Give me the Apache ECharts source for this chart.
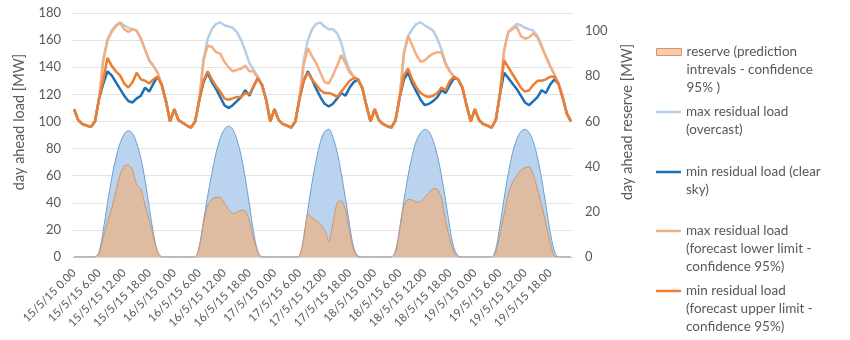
<!DOCTYPE html>
<html><head><meta charset="utf-8">
<script src="https://cdn.jsdelivr.net/npm/echarts@6/dist/echarts.min.js"></script>
<style>html,body{margin:0;padding:0;background:#fff}#c{width:850px;height:340px}</style>
</head><body><div id="c"></div>
<script>
// ---- data ----
const days = ['15/5/15','16/5/15','17/5/15','18/5/15','19/5/15'];
const hours = ['0','1','2','3','4','5','6','7','8','9','10','11','12','13','14','15','16','17','18','19','20','21','22','23'];

const nameReserve = 'reserve (prediction\nintrevals - confidence\n95% )';
const nameMaxOvercast = 'max residual load\n(overcast)';
const nameMinClear = 'min residual load (clear\nsky)';
const nameMaxLower = 'max residual load\n(forecast lower limit -\nconfidence 95%)';
const nameMinUpper = 'min residual load\n(forecast upper limit -\nconfidence 95%)';

// min residual load (forecast upper limit) [MW, left axis]
const minUpper = [
 109,101,98,97,96,100,117,131,147,141,137,134,128,125,129,136,131,130,128,131,133,127,115,100,
 109,101,99,97,95.5,100,116,130,137,131,126,122,117,116,117,118,118,121,120,126,132,127,116,100,
 109,101,98,97,95.5,100,117,130,136,131,127,123,121,121,120,118,122,126,130,132,131,125,112,100,
 109,101,98,96.5,95.5,101,118,134,139,131,125,121,119,118,119,121,125,123,130,133,131,125,112,100,
 109,101,98,97,95.5,101,120,145,140,135,130,125,122,123,127,130,130,131,133,133,128,118,106,100];
// min residual load (clear sky)
const minClear = [
 109,101,98,97,96,100,117,128,137,134,129,124,119,115,114,117,119,125,122,128,133,127,115,100,
 109,101,99,97,95.5,100,116,129,136,129,124,118,112,110,112,115,118,123,119,126,132,127,116,100,
 109,101,98,97,95.5,100,117,130,137,131,124,118,113,111,113,117,121,119,125,129,131,125,112,100,
 109,101,98,96.5,95.5,101,118,131,136,128,122,116,112,113,115,118,123,121,127,132,131,125,112,100,
 109,101,98,97,95.5,101,120,136,132,128,124,119,114,112,115,118,123,121,127,131,128,118,106,100];
// max residual load (forecast lower limit)
const maxLower = [
 109,101,98,97,96,100,117,145,160,166,170,173,168,166,168,167,161,153,145,141,136,127,115,100,
 109,101,99,97,95.5,100,116,145,156,155,151,150,144,140,137,138,139,141,137,137,132,127,116,100,
 109,101,98,97,95.5,100,117,142,154,148,143,136,129,128,134,141,149,143,136,133,131,125,112,100,
 109,101,98,96.5,95.5,101,118,150,163,156,149,144,145,148,150,151,151,142,137,133,131,125,112,100,
 109,101,98,97,95.5,101,120,152,166,168,170,163,161,162,165,162,155,148,141,135,128,118,106,100];
// max residual load (overcast)
const maxOvercast = [
 109,101,98,97,96,100,117,146,160,167,171,173,171,169,168,167,161,153,145,141,136,127,115,100,
 109,101,99,97,95.5,100,116,146,161,168,172,173,171,170,169,166,160,152,143,138,133,127,116,100,
 109,101,98,97,95.5,100,117,145,160,168,172,173,170,168,168,165,158,146,138,133,131,125,112,100,
 109,101,98,96.5,95.5,101,118,151,163,168,172,173,171,169,167,161,153,143,137,133,131,125,112,100,
 109,101,98,97,95.5,101,120,153,166,169,172,171,169,168,167,163,156,148,141,135,128,118,106,100];
// blue band (right axis, MW)
const blueBand = [
 0,0,0,0,0,0,2.4,12,23.7,34.8,43.7,50.3,54.4,55.9,54.7,50.3,43.7,34,22,10.5,2.4,0,0,0,
 0,0,0,0,0,0,5,16,27,37,46,52.5,56.5,58,56.5,52,45,35,23,11,2.5,0,0,0,
 0,0,0,0,0,0,0.5,9,21,33,43,51,55.5,56.5,53,46.5,37,26,14,4,0.5,0,0,0,
 0,0,0,0,0,3,13,25,36,45,51.5,55,56.5,55.5,51.5,45,36,25,13,4,0.5,0,0,0,
 0,0,0,0,0,3.5,14,26,37,46,52,55.5,56.5,55,51,44,34.5,23,11.5,3,0,0,0,0];
// reserve (prediction intervals) (right axis, MW)
const reserve = [
 0,0,0,0,0,0,1.6,9,15.6,21.5,29,36.3,40.3,40.7,38.5,31.9,30,23,16.4,9,2.4,0,0,0,
 0,0,0,0,0,0,4,15,23,25.5,26.4,26.4,24,21,19.3,19.8,20.7,20.5,16,8,2,0,0,0,
 0,0,0,0,0,0,0.5,8,19,17.5,16,14.5,12,7,15,24,25,21,11,3,0,0,0,0,
 0,0,0,0,0,2,12,23,25.5,25.2,24.3,24.5,26.5,28.5,30.2,30,26,16,8,2,0,0,0,0,
 0,0,0,0,0,2,10,19,28,33,36,38.5,39.5,40,36.5,30,23,15,6.5,0.5,0,0,0,0];

const categories = [];
days.forEach(d => hours.forEach(h => categories.push(d + ' ' + h + '.00')));

// ---- chart ----
const FONT = 'Lato';
const TXT = '#595959';
const LH = 18;
const chart = echarts.init(document.getElementById('c'), null, {renderer: 'canvas'});

// one legend per item; icon aligned with the first text line
function legendFor(name, y, color, iconH, border) {
  const lines = name.split('\n').length;
  const pad = '\n'.repeat(lines - 1);
  return {
    orient: 'vertical', left: 656, top: y - (LH / 2) * (2 * lines - 1),
    padding: 0, itemWidth: 25, itemHeight: iconH, selectedMode: false,
    formatter: n => pad + n,
    textStyle: {color: TXT, fontSize: 13.5, fontFamily: FONT, lineHeight: LH},
    data: [{name: name, icon: 'rect',
      itemStyle: {color: color, borderColor: border || color, borderWidth: border ? 1 : 0}}]
  };
}

chart.setOption({
  animation: false,
  backgroundColor: '#fff',
  grid: {left: 72, right: 277, top: 13, bottom: 83},
  legend: [
    legendFor(nameReserve, 52, '#F8CBAD', 7, '#D9956A'),
    legendFor(nameMaxOvercast, 112, '#B5CEE8', 2.5),
    legendFor(nameMinClear, 172, '#1E6EB4', 2.5),
    legendFor(nameMaxLower, 231, '#F3AE82', 2.5),
    legendFor(nameMinUpper, 291, '#ED7D31', 2.5)
  ],
  xAxis: {
    type: 'category', data: categories, boundaryGap: true,
    axisLine: {lineStyle: {color: '#d9d9d9'}},
    axisTick: {show: false},
    axisLabel: {interval: 5, rotate: 45, margin: 14, color: TXT, fontSize: 11.5, fontFamily: FONT}
  },
  yAxis: [{
    type: 'value', min: 0, max: 180, interval: 20,
    name: 'day ahead load [MW]', nameLocation: 'middle', nameRotate: 90, nameGap: 45,
    nameTextStyle: {color: TXT, fontSize: 14.5, fontFamily: FONT, padding: [0, 0, 0, 26]},
    axisLine: {show: false}, axisTick: {show: false},
    axisLabel: {color: TXT, fontSize: 13, fontFamily: FONT, margin: 11},
    splitLine: {lineStyle: {color: '#e3e3e3'}}
  }, {
    type: 'value', min: 0, max: 108, interval: 20, position: 'right',
    name: 'day ahead reserve [MW]', nameLocation: 'middle', nameRotate: 90, nameGap: 47,
    nameTextStyle: {color: TXT, fontSize: 14.5, fontFamily: FONT, padding: [0, 0, 0, 26]},
    axisLine: {show: false}, axisTick: {show: false},
    axisLabel: {color: TXT, fontSize: 13, fontFamily: FONT, margin: 12, showMaxLabel: false},
    splitLine: {show: false}
  }],
  series: [
    {name: 'band', type: 'line', yAxisIndex: 1, data: blueBand, smooth: 0.35, symbol: 'none',
     lineStyle: {color: '#6E9FD3', width: 1}, areaStyle: {color: '#BAD3EE', opacity: 1}, z: 1},
    {name: nameReserve, type: 'line', yAxisIndex: 1, data: reserve, smooth: 0.2, symbol: 'none',
     itemStyle: {color: '#F8CBAD'},
     lineStyle: {color: '#CB9470', width: 1}, areaStyle: {color: '#DDBCA2', opacity: 1}, z: 2},
    {name: nameMaxOvercast, type: 'line', data: maxOvercast, symbol: 'none',
     itemStyle: {color: '#B5CEE8'}, lineStyle: {color: '#B5CEE8', width: 2.5}, z: 3},
    {name: nameMinClear, type: 'line', data: minClear, symbol: 'none',
     itemStyle: {color: '#1E6EB4'}, lineStyle: {color: '#1E6EB4', width: 2.5}, z: 4},
    {name: nameMaxLower, type: 'line', data: maxLower, symbol: 'none',
     itemStyle: {color: '#F3AE82'}, lineStyle: {color: '#F3AE82', width: 2.5}, z: 5},
    {name: nameMinUpper, type: 'line', data: minUpper, symbol: 'none',
     itemStyle: {color: '#ED7D31'}, lineStyle: {color: '#ED7D31', width: 2.5}, z: 6}
  ]
});
</script></body></html>
